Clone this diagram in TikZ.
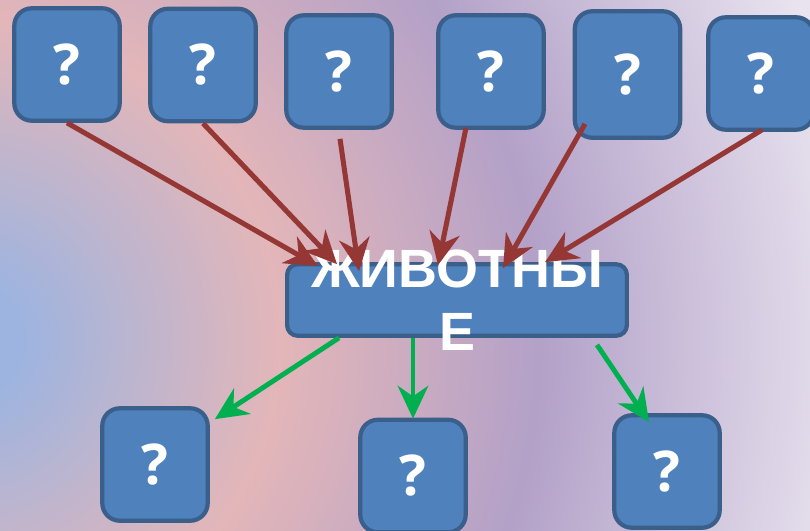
\documentclass[tikz,border=0pt]{standalone}
\usepackage{fontspec}
\setmainfont{Liberation Sans}
\newfontfamily\qfont{Open Sans}
\usetikzlibrary{arrows.meta,calc}

\definecolor{boxfill}{HTML}{4F81BD}
\definecolor{boxline}{HTML}{3A5F8B}
\definecolor{arrred}{HTML}{953735}
\definecolor{arrgreen}{HTML}{00B050}
\definecolor{bgblue}{HTML}{9DB4E0}
\definecolor{bgpink}{HTML}{E3B6B9}
\definecolor{bgpurple}{HTML}{B3A1C8}
\definecolor{bglight}{HTML}{E8E3EF}

\pgfdeclareradialshading{bgshade}{\pgfpoint{0bp}{0bp}}{color(0bp)=(bgblue); color(1.5bp)=(bgblue); color(8bp)=(bgpink); color(14.5bp)=(bgpurple); color(22.5bp)=(bglight); color(50bp)=(bglight)}

\begin{document}
\begin{tikzpicture}[x=0.03cm,y=-0.03cm]
 \tikzstyle{q} = [draw=boxline,fill=boxfill,line width=3.6pt,rounded corners=15pt,minimum width=90pt,minimum height=96pt,text=white,font=\qfont\bfseries\fontsize{48}{48}\selectfont]
 \tikzstyle{mid} = [draw=boxline,fill=boxfill,line width=3.6pt,rounded corners=9pt,minimum width=290pt,minimum height=61pt]
 \tikzstyle{txt} = [text=white,align=center,font=\bfseries\fontsize{46}{54}\selectfont]
 \tikzstyle{lr} = [draw=arrred,line width=4.3pt,-{Stealth[length=28pt,width=26pt,inset=9pt]}]
 \tikzstyle{lg} = [draw=arrgreen,line width=4.2pt,-{Stealth[length=28pt,width=26pt,inset=9pt]}]
 % background
 \useasboundingbox (0,0) rectangle (810,530);
 \begin{scope}
 \clip (0,0) rectangle (810,530);
 \shade[shading=bgshade] (-40,340) circle [radius=1000];
 \end{scope}
 \path
 node[mid] (Animals) at (457,300) {}
 (Animals) ++(-390,-235.5) node[q] (Q1) {?}
 (Animals) ++(-254,-235) node[q] (Q2) {?}
 (Animals) ++(-118,-228.5) node[q] (Q3) {?}
 (Animals) ++(34,-228.5) node[q] (Q4) {?}
 (Animals) ++(170.5,-225.5) node[q,minimum height=108pt] (Q5) {?}
 (Animals) ++(304,-226.5) node[q] (Q6) {?}
 (Animals) ++(-302,164.5) node[q] (Q7) {?}
 (Animals) ++(-44,176) node[q] (Q8) {?}
 (Animals) ++(210,171.5) node[q] (Q9) {?}
 ;
 \node[txt] (AnimalsText) at (Animals) {ЖИВОТНЫ\\Е};
 % up arrows
 \path [lr] (Q1.south) -- ($(Animals.north)+(-139,4)$);
 \path [lr] (Q2.south) -- ($(Animals.north)+(-120,2)$);
 \path [lr] ($(Q3.south)+(1,9)$) -- ($(Animals.north)+(-98,9)$);
 \path [lr] ($(Q4.south)+(-25,-2)$) -- ($(Animals.north)+(-19,3)$);
 \path [lr] ($(Q5.south)+(-42.5,-16)$) -- ($(Animals.north)+(46,6)$);
 \path [lr] ($(Q6.south)+(1,-2)$) -- ($(Animals.north)+(88,0)$);
 % down arrows
 \path [lg] ($(Animals.south)+(-118,0)$) -- ($(Q7.north east)+(5,13)$);
 \path [lg] ($(Animals.south)+(-44,0)$) -- ($(Q8.north)+(0,1)$);
 \path [lg] ($(Animals.south)+(140,7)$) -- ($(Q9.north)+(-18,9)$);
\end{tikzpicture}
\end{document}
